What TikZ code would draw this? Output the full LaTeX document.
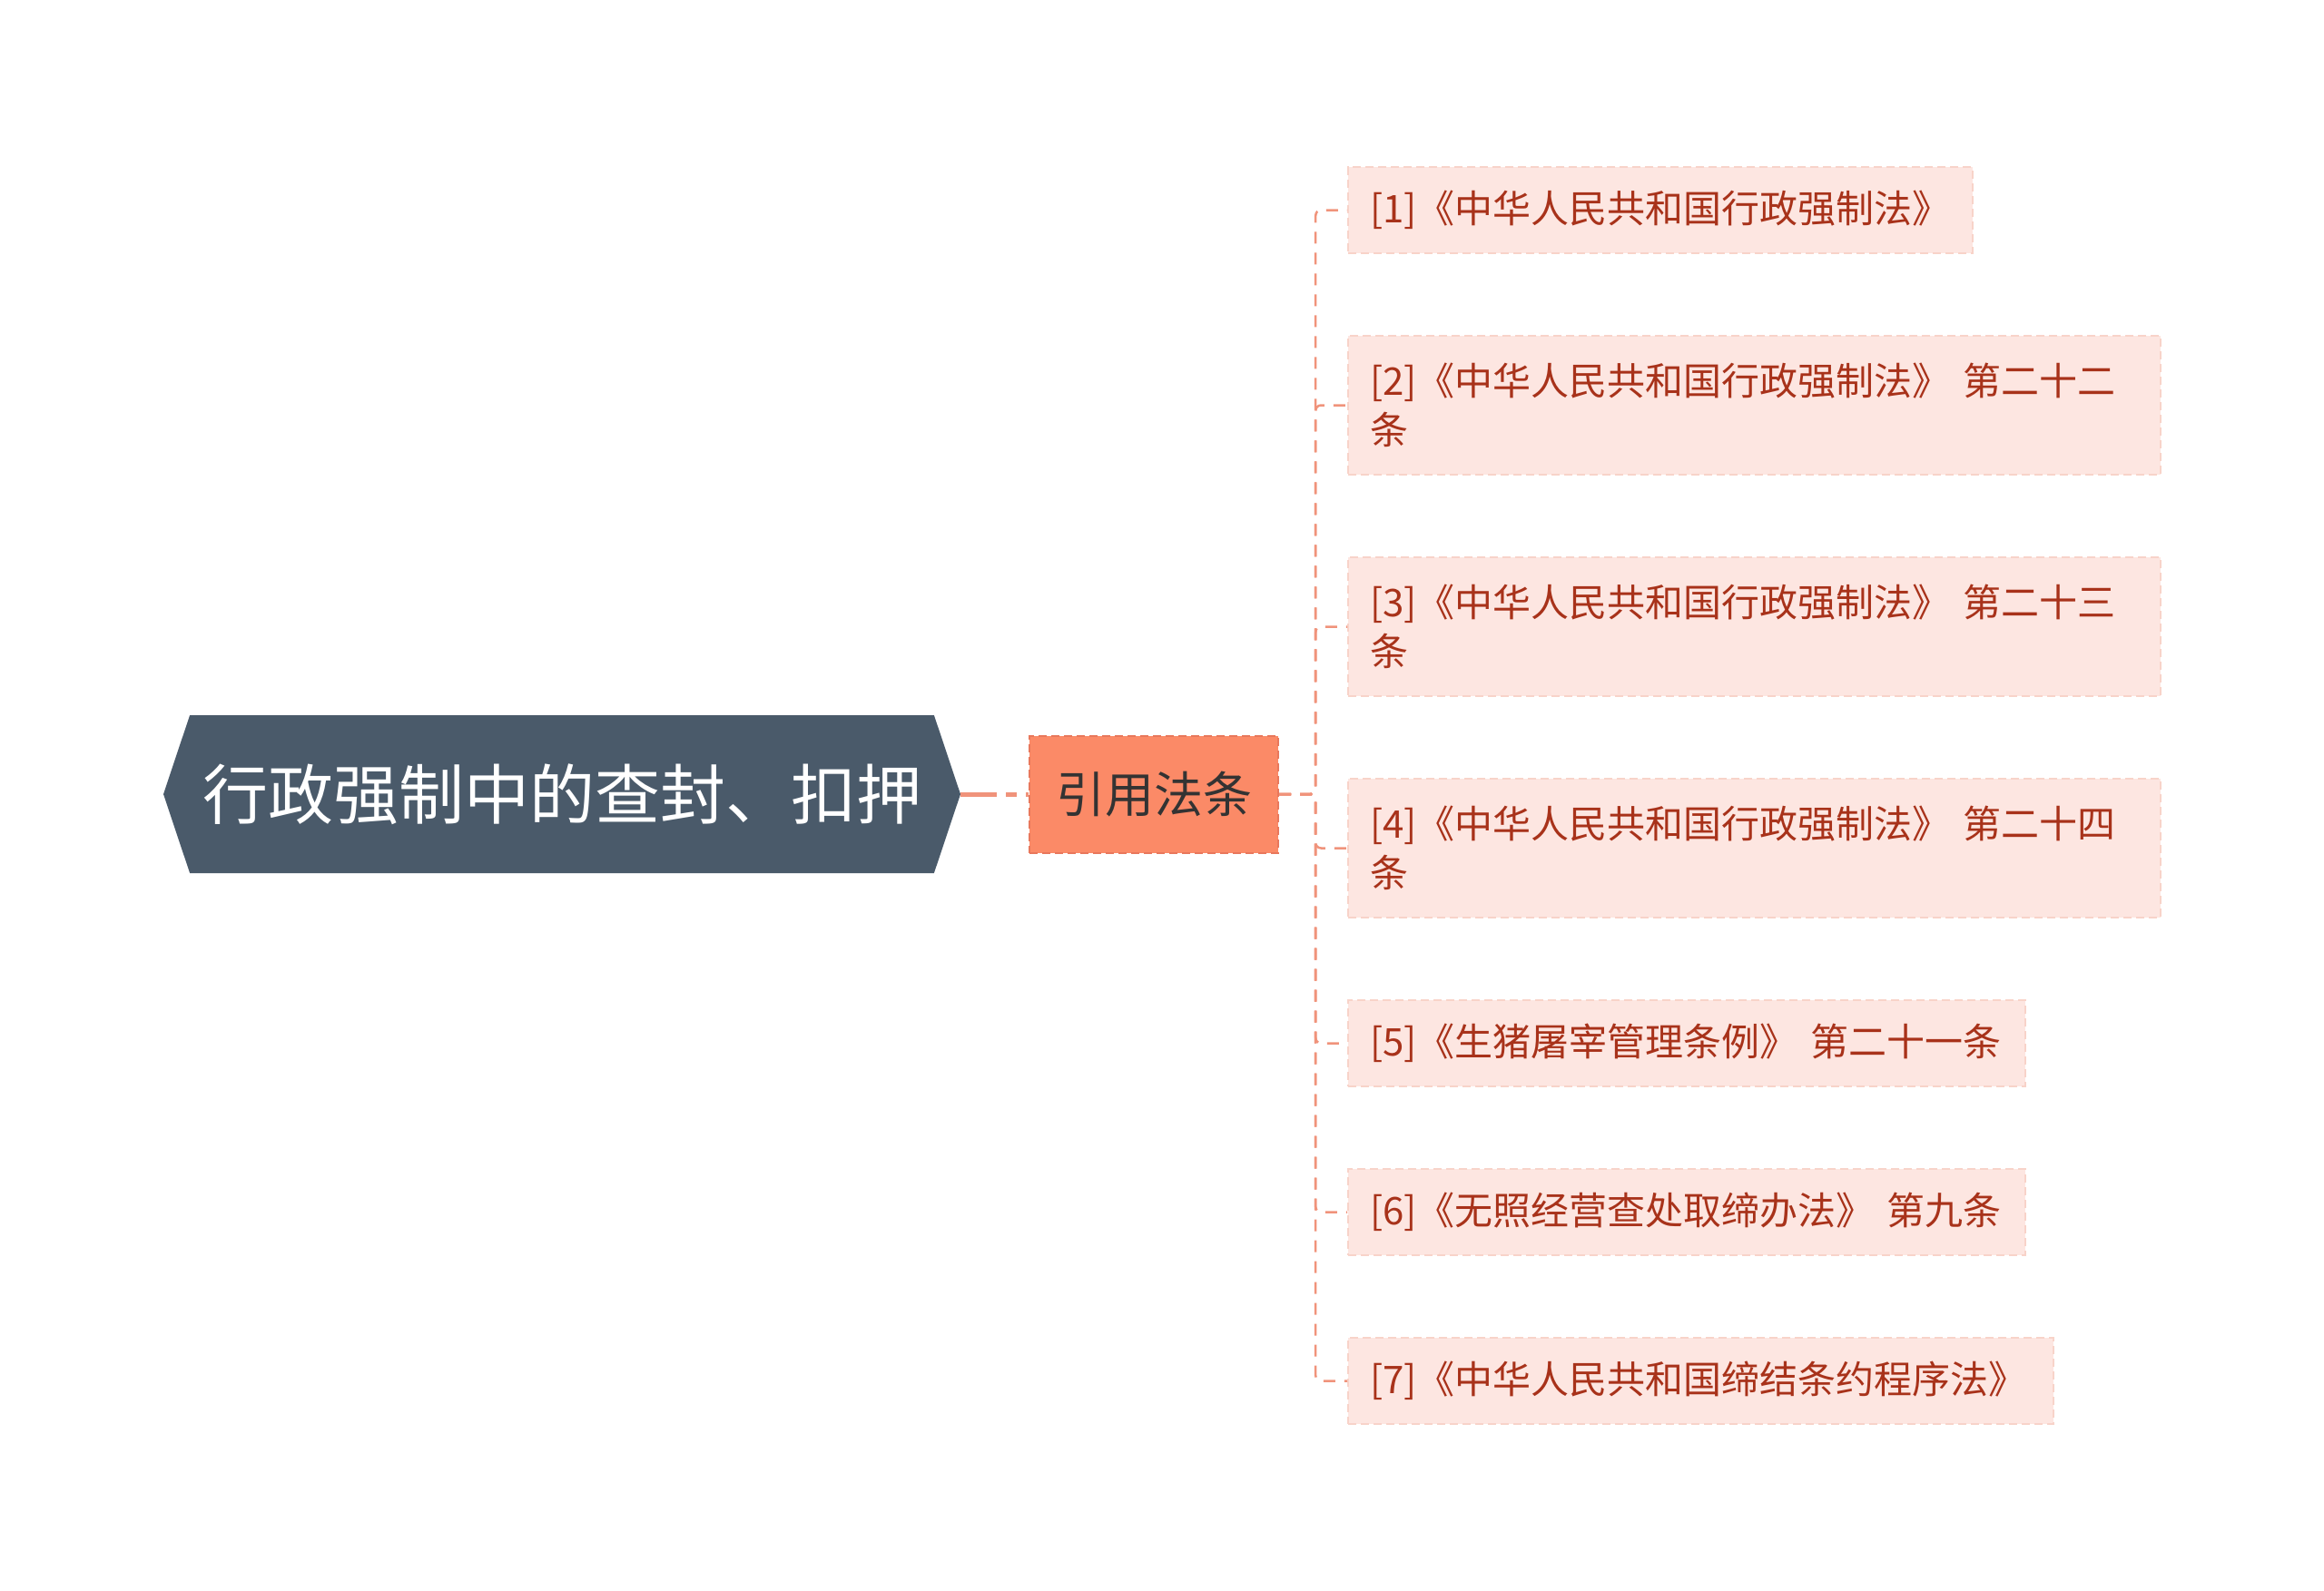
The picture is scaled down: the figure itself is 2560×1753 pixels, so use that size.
\documentclass[tikz,border=0pt]{standalone}
\usepackage{fontspec}
\setmainfont{Noto Sans CJK SC}
\usepackage{xcolor}
\usepackage{tikz}
\usetikzlibrary{shapes.symbols, positioning, calc}
\definecolor{lawslate}{HTML}{4A5A6A}
\definecolor{lawcoral}{HTML}{FB8A67}
\definecolor{lawcoraldk}{HTML}{E8785C}
\definecolor{lawpink}{HTML}{FDE6E1}
\definecolor{lawpinkdk}{HTML}{F8D3C9}
\definecolor{lawred}{HTML}{A8321A}
\definecolor{lawline}{HTML}{F0937B}

\begin{document}
\begin{tikzpicture}[node distance=89pt,
  root/.style={signal, signal to=west and east, signal pointer angle=143,
    fill=lawslate, draw=none, text=white, minimum width=878pt, minimum height=174pt,
    inner sep=0pt, font=\fontsize{72}{80}\selectfont},
  hub/.style={rectangle, fill=lawcoral, draw=lawcoraldk, line width=2pt,
    dash pattern=on 9pt off 5pt, minimum width=274pt, minimum height=129pt,
    text=black!80, font=\fontsize{54}{60}\selectfont},
  leaf/.style={rectangle, fill=lawpink, draw=lawpinkdk, line width=2pt,
    dash pattern=on 9pt off 5pt, minimum height=95pt, inner xsep=24pt, align=left,
    text=lawred, font=\fontsize{42}{54}\selectfont},
  leaftwo/.style={leaf, text width=847pt, minimum height=153pt},
  link/.style={draw=lawline, line width=2.5pt, dash pattern=on 13pt off 10pt, rounded corners=6pt},
  trunk/.style={draw=lawline, line width=5pt, dash pattern=on 40pt off 10pt on 12pt off 10pt}]
  \useasboundingbox (0,0) rectangle (2560pt,-1753pt);
  \node[root] (root) at (619pt,-875pt) {行政强制中的查封、扣押};
  \node[hub, right=75pt of root] (hub) {引用法条};
  \node[leaf, anchor=north west] (l1) at (1484pt,-183pt) {[1]《中华人民共和国行政强制法》};
  \node[leaftwo, below=of l1.south west, anchor=north west] (l2) {[2]《中华人民共和国行政强制法》 第二十二\\条};
  \node[leaftwo, below=of l2.south west, anchor=north west] (l3) {[3]《中华人民共和国行政强制法》 第二十三\\条};
  \node[leaftwo, below=of l3.south west, anchor=north west] (l4) {[4]《中华人民共和国行政强制法》 第二十四\\条};
  \node[leaf, below=of l4.south west, anchor=north west, text width=698pt] (l5) {[5]《生猪屠宰管理条例》 第二十一条};
  \node[leaf, below=of l5.south west, anchor=north west, text width=698pt] (l6) {[6]《无照经营查处取缔办法》 第九条};
  \node[leaf, below=of l6.south west, anchor=north west, text width=729pt] (l7) {[7]《中华人民共和国缔结条约程序法》};
  \draw[trunk] (root.east) -- (hub.west);
  \foreach \i in {1,...,7}
    \draw[link] (hub.east) -- ++(40pt,0) |- (l\i.west);
\end{tikzpicture}
\end{document}
